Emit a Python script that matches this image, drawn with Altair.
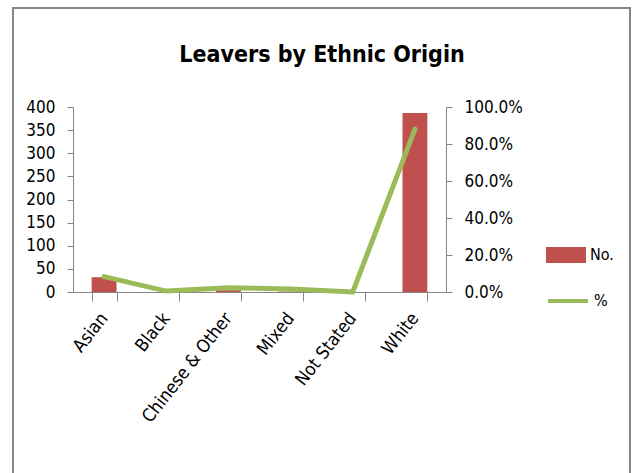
import altair as alt
import pandas as pd

# Leavers by ethnic origin: headcount (bars) and share of total (line)
categories = ["Asian", "Black", "Chinese & Other", "Mixed", "Not Stated", "White"]
counts = [32, 0, 4, 1, 0, 387]
shares = [0.083, 0.005, 0.023, 0.016, 0.0, 0.88]
title_text = ["Leavers by Ethnic Origin"]

df = pd.DataFrame({
    "origin": categories,
    "count": counts,
    "share": shares,
    "s_no": ["No."] * len(categories),
    "s_pct": ["%"] * len(categories),
})

FONT = "DejaVu Sans Condensed"
AXIS_GREY = "#868686"
BAR_RED = "#C0504D"
LINE_GREEN = "#9BBB59"

x_enc = alt.X(
    "origin:N",
    sort=categories,
    scale=alt.Scale(paddingInner=0.6, paddingOuter=0.3),
    axis=alt.Axis(
        title=None,
        labelAngle=-52,
        labelFontSize=18,
        labelFont=FONT,
        labelColor="#000000",
        tickBand="extent",
        tickSize=9,
        tickColor=AXIS_GREY,
        domainColor=AXIS_GREY,
        labelPadding=14,
        grid=False,
    ),
)

legend_common = dict(
    title=None,
    orient="none",
    labelFont=FONT,
    labelFontSize=16,
    labelColor="#000000",
    labelOffset=4,
    symbolSize=1600,
)

bars = alt.Chart(df).mark_bar(opacity=1).encode(
    x=x_enc,
    y=alt.Y(
        "count:Q",
        scale=alt.Scale(domain=[0, 400], nice=False),
        axis=alt.Axis(
            title=None,
            values=list(range(0, 401, 50)),
            labelFont=FONT,
            labelFontSize=17,
            labelColor="#000000",
            tickSize=6,
            tickColor=AXIS_GREY,
            domainColor=AXIS_GREY,
            labelPadding=12,
            grid=False,
        ),
    ),
    fill=alt.Fill(
        "s_no:N",
        scale=alt.Scale(domain=["No."], range=[BAR_RED]),
        legend=alt.Legend(
            legendX=473, legendY=128,
            symbolType="M-1,-0.4H1V0.4H-1Z",
            symbolStrokeWidth=0,
            symbolOpacity=1,
            **legend_common,
        ),
    ),
)

line = alt.Chart(df).mark_line(strokeWidth=5, strokeCap="round").encode(
    x=alt.X("origin:N", sort=categories),
    y=alt.Y(
        "share:Q",
        scale=alt.Scale(domain=[0, 1], nice=False),
        axis=alt.Axis(
            title=None,
            orient="right",
            values=[0, 0.2, 0.4, 0.6, 0.8, 1.0],
            format=".1%",
            labelFont=FONT,
            labelFontSize=17,
            labelColor="#000000",
            tickSize=6,
            tickColor=AXIS_GREY,
            domainColor=AXIS_GREY,
            labelPadding=12,
            grid=False,
        ),
    ),
    stroke=alt.Stroke(
        "s_pct:N",
        scale=alt.Scale(domain=["%"], range=[LINE_GREEN]),
        legend=alt.Legend(
            legendX=473, legendY=172,
            symbolType="stroke",
            symbolStrokeWidth=4,
            **legend_common,
        ),
    ),
)

# outer chart frame
frame = alt.Chart(df).mark_rect(
    fill="transparent", stroke=AXIS_GREY, strokeWidth=2
).encode(
    x=alt.value(-60), x2=alt.value(557), y=alt.value(-99), y2=alt.value(380)
)

# chart heading, centred on the frame
heading = alt.Chart(pd.DataFrame({"t": title_text})).mark_text(
    font=FONT,
    fontSize=23,
    fontWeight="bold",
    color="#000000",
    align="center",
    baseline="alphabetic",
).encode(
    text="t:N", x=alt.value(249), y=alt.value(-45)
)

chart = (
    alt.layer(frame, bars, line, heading)
    .resolve_scale(y="independent")
    .properties(
        width=373,
        height=185,
        padding={"left": 73, "top": 107, "right": 189, "bottom": 181},
        autosize=alt.AutoSizeParams(type="none"),
        background="#ffffff",
    )
    .configure_view(stroke=None)
)

chart.save("out.html", embed_options={"renderer": "svg", "actions": False})
